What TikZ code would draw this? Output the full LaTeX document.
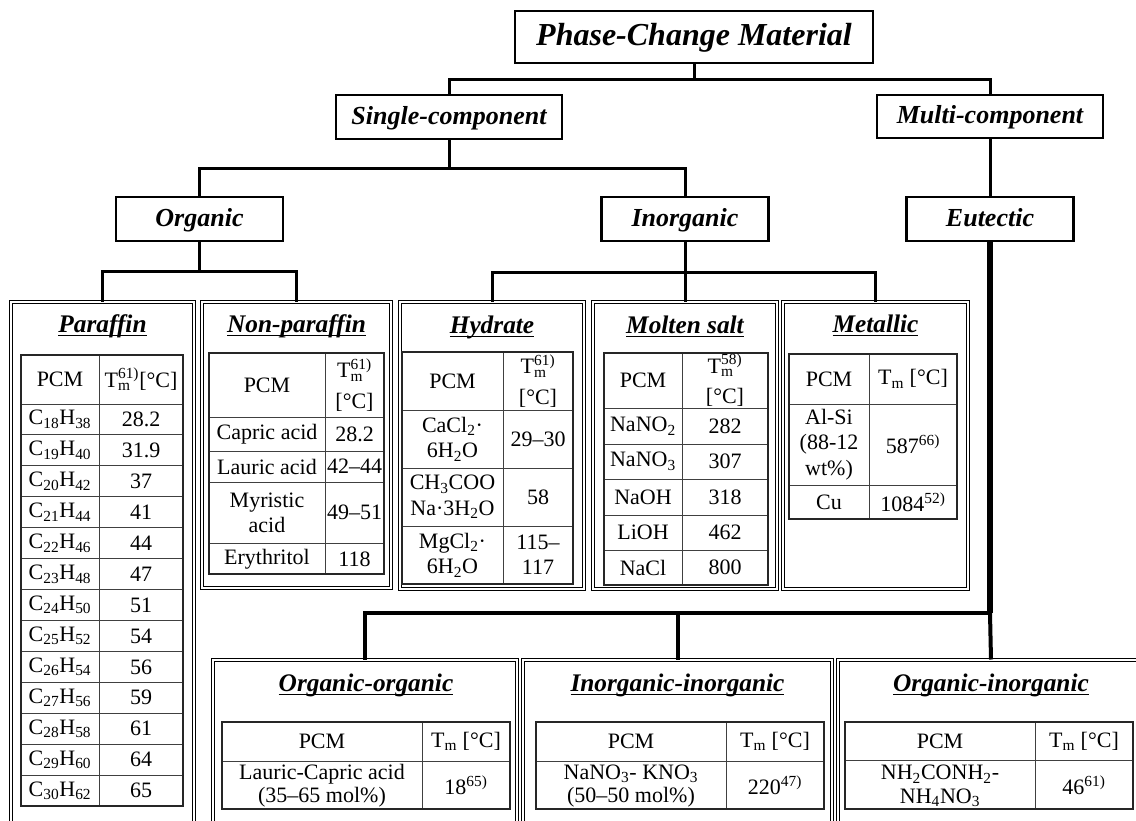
\documentclass[tikz,border=0pt]{standalone}
\usepackage{fontspec}
\setmainfont{Liberation Serif}
\usetikzlibrary{fit}
\newcommand\Tref[1]{T\makebox[0pt][l]{\textsubscript{m}}\textsuperscript{#1}}
\newcommand\Tm{T\textsubscript{m}}
\newcommand\sbs[1]{\textsubscript{#1}}
\newcommand\rfn[1]{\textsuperscript{#1}}
\newcommand\ulx[1]{\setbox0\hbox{#1}\usebox0\llap{\rule[-3.2pt]{\wd0}{1pt}}}
\tikzset{
  lvl/.style={draw, line width=1.9pt, inner sep=0pt, text height=13.5pt, text depth=3pt, font=\fontsize{19.5}{23}\selectfont\bfseries\itshape},
  topf/.style={text height=17pt, text depth=4pt, font=\fontsize{24}{28}\selectfont\bfseries\itshape},
  secbox/.style={draw, double, line width=0.75pt, double distance=0.8pt, inner sep=0pt},
  ttl/.style={anchor=base, font=\fontsize{19}{22}\selectfont\bfseries\itshape, inner sep=0pt},
  tcell/.style={font=\fontsize{16.5}{19}\selectfont, inner sep=0pt, align=center},
  bcell/.style={font=\fontsize{16.5}{17.5}\selectfont, inner sep=0pt, align=center},
  conn/.style={line width=2.25pt, line join=miter},
  btree/.style={line width=3pt, line join=miter},
  trunk/.style={line width=4.5pt},
  tout/.style={line width=1.2pt, black!85},
  tin/.style={line width=0.75pt, black!75},
}
\begin{document}
\begin{tikzpicture}[x=0.75pt,y=-0.75pt]
\useasboundingbox (0,0) rectangle (1136,821);
\clip (0,0) rectangle (1136,821);

% ---------- level boxes ----------
\node[lvl, topf, minimum width=268.5pt, minimum height=39pt] (top) at (694,37) {Phase-Change Material};
\node[lvl, minimum width=169.5pt, minimum height=33pt] (single) at (449,117) {Single-component};
\node[lvl, minimum width=169.5pt, minimum height=32.25pt] (multi) at (990,116.5) {Multi-component};
\node[lvl, minimum width=125.25pt, minimum height=33pt] (organic) at (199.5,219) {Organic};
\node[lvl, minimum width=125.25pt, minimum height=33pt] (inorganic) at (685,219) {Inorganic};
\node[lvl, minimum width=125.25pt, minimum height=33pt] (eutectic) at (990,219) {Eutectic};

% ---------- section boxes ----------
\node[secbox, fit={(11,302)(194,840)}] (paraffin) {};
\node[secbox, fit={(202,302)(391,588)}] (nonpar) {};
\node[secbox, fit={(400,302)(584,589)}] (hydrate) {};
\node[secbox, fit={(593,302)(777,589)}] (molten) {};
\node[secbox, fit={(783,302)(968,589)}] (metallic) {};
\node[secbox, fit={(213,660)(517,840)}] (orgorg) {};
\node[secbox, fit={(523,660)(832,840)}] (inorginorg) {};
\node[secbox, fit={(838,660)(1144,840)}] (orginorg) {};

% ---------- connectors ----------
\coordinate (j0) at (694,79);
\draw[conn] (top.south) -- (j0);
\draw[conn] (single.north) |- (j0) -| (multi.north);
\coordinate (j1) at (449,168);
\draw[conn] (single.south) -- (j1);
\draw[conn] (organic.north) |- (j1) -| (inorganic.north);
\draw[conn] (multi.south) -- (eutectic.north);
\coordinate (j2) at (199.5,271);
\draw[conn] (organic.south) -- (j2);
\draw[conn] (paraffin.north) |- (j2) -| (nonpar.north);
\coordinate (j3) at (685,272);
\draw[conn] (inorganic.south) -- (j3);
\draw[conn] (hydrate.north) |- (j3) -| (metallic.north);
\draw[conn] (j3) -- (molten.north);
\coordinate (j4) at (990,613);
\draw[trunk] (eutectic.south) -- (j4);
\draw[btree] (orgorg.north) |- (j4);
\draw[btree] (inorginorg.north) -- (inorginorg.north |- j4);
\draw[btree] (j4) -- (orginorg.north);

% ---------- titles ----------
\node[ttl] (tpar) at (102.5,332) {\ulx{Paraffin}};
\node[ttl] (tnon) at (296.5,332) {\ulx{Non-paraffin}};
\node[ttl] (thyd) at (492,333) {\ulx{Hydrate}};
\node[ttl] (tmol) at (685,333) {\ulx{Molten salt}};
\node[ttl] (tmet) at (875.5,332) {\ulx{Metallic}};
\node[ttl] (too) at (366,691) {\ulx{Organic-organic}};
\node[ttl] (tii) at (677.5,691) {\ulx{Inorganic-inorganic}};
\node[ttl] (toi) at (991,691) {\ulx{Organic-inorganic}};

% ---------- Paraffin table ----------
\draw[tin] (99,355) -- (99,806);
\foreach \k in {0,...,12} \draw[tin] (21,{404+30.923*\k}) -- (183,{404+30.923*\k});
\draw[tout] (21,355) rectangle (183,806);
\node[tcell] (ph1) at (60,379.5) {PCM};
\node[tcell] (ph2) at (141,379.5) {\Tref{61)}[°C]};
\foreach \a/\b/\v [count=\i] in {18/38/28.2,19/40/31.9,20/42/37,21/44/41,22/46/44,23/48/47,24/50/51,25/52/54,26/54/56,27/56/59,28/58/61,29/60/64,30/62/65}{
  \node[tcell] (pc\i) at (60,{404+30.923*(\i-0.5)}) {C\sbs{\a}H\sbs{\b}};
  \node[tcell] (pv\i) at (141,{404+30.923*(\i-0.5)}) {\v};
}

% ---------- Non-paraffin table ----------
\draw[tin] (325,353) -- (325,574);
\foreach \yy in {417,451,482,543} \draw[tin] (209,\yy) -- (384,\yy);
\draw[tout] (209,353) rectangle (384,574);
\node[tcell] (nh1) at (267,385) {PCM};
\node[tcell] (nh2) at (354.5,385) {\Tref{61)}\\[4pt]{}[°C]};
\node[tcell] (nc1) at (267,434) {Capric acid};
\node[tcell] (nv1) at (354.5,434) {28.2};
\node[tcell] (nc2) at (267,466.5) {Lauric acid};
\node[tcell] (nv2) at (354.5,466.5) {42–44};
\node[tcell] (nc3) at (267,512.5) {Myristic\\acid};
\node[tcell] (nv3) at (354.5,512.5) {49–51};
\node[tcell] (nc4) at (267,559) {Erythritol};
\node[tcell] (nv4) at (354.5,559) {118};

% ---------- Hydrate table ----------
\draw[tin] (503,352) -- (503,584);
\foreach \yy in {410,468,526} \draw[tin] (402,\yy) -- (573,\yy);
\draw[tout] (402,352) rectangle (573,584);
\node[tcell] (hh1) at (452.5,381) {PCM};
\node[tcell] (hh2) at (538,381) {\Tref{61)}\\[4pt]{}[°C]};
\node[tcell] (hc1) at (452.5,439) {CaCl\sbs{2}·\\6H\sbs{2}O};
\node[tcell] (hv1) at (538,439) {29–30};
\node[tcell] (hc2) at (452.5,497) {CH\sbs{3}COO\\Na·3H\sbs{2}O};
\node[tcell] (hv2) at (538,497) {58};
\node[tcell] (hc3) at (452.5,555) {MgCl\sbs{2}·\\6H\sbs{2}O};
\node[tcell] (hv3) at (538,555) {115–\\117};

% ---------- Molten salt table ----------
\draw[tin] (682,353) -- (682,585);
\foreach \yy in {408,444,479,515,550} \draw[tin] (604,\yy) -- (768,\yy);
\draw[tout] (604,353) rectangle (768,585);
\node[tcell] (mh1) at (643,380.5) {PCM};
\node[tcell] (mh2) at (725,380.5) {\Tref{58)}\\[4pt]{}[°C]};
\node[tcell] (mc1) at (643,426) {NaNO\sbs{2}};
\node[tcell] (mv1) at (725,426) {282};
\node[tcell] (mc2) at (643,461.5) {NaNO\sbs{3}};
\node[tcell] (mv2) at (725,461.5) {307};
\node[tcell] (mc3) at (643,497) {NaOH};
\node[tcell] (mv3) at (725,497) {318};
\node[tcell] (mc4) at (643,532.5) {LiOH};
\node[tcell] (mv4) at (725,532.5) {462};
\node[tcell] (mc5) at (643,567.5) {NaCl};
\node[tcell] (mv5) at (725,567.5) {800};

% ---------- Metallic table ----------
\draw[tin] (869,354) -- (869,519);
\foreach \yy in {404,485} \draw[tin] (789,\yy) -- (957,\yy);
\draw[tout] (789,354) rectangle (957,519);
\node[tcell] (eh1) at (829,379) {PCM};
\node[tcell] (eh2) at (913,379) {\Tm{} [°C]};
\node[tcell] (ec1) at (829,444.5) {Al-Si\\(88-12\\wt\%)};
\node[tcell] (ev1) at (913,444.5) {587\rfn{66)}};
\node[tcell] (ec2) at (829,502) {Cu};
\node[tcell] (ev2) at (913,502) {1084\rfn{52)}};

% ---------- Organic-organic table ----------
\draw[tin] (422,722) -- (422,809);
\draw[tin] (222,761) -- (510,761);
\draw[tout] (222,722) rectangle (510,809);
\node[tcell] (oh1) at (322,741.5) {PCM};
\node[tcell] (oh2) at (466,741.5) {\Tm{} [°C]};
\node[bcell] (oc1) at (322,786) {Lauric-Capric acid\\(35–65 mol\%)};
\node[tcell] (ov1) at (466,785) {18\rfn{65)}};

% ---------- Inorganic-inorganic table ----------
\draw[tin] (726,722) -- (726,809);
\draw[tin] (536,761) -- (824,761);
\draw[tout] (536,722) rectangle (824,809);
\node[tcell] (ih1) at (631,741.5) {PCM};
\node[tcell] (ih2) at (775,741.5) {\Tm{} [°C]};
\node[bcell] (ic1) at (631,786) {NaNO\sbs{3}- KNO\sbs{3}\\(50–50 mol\%)};
\node[tcell] (iv1) at (775,785) {220\rfn{47)}};

% ---------- Organic-inorganic table ----------
\draw[tin] (1035,722) -- (1035,809);
\draw[tin] (845,760) -- (1133,760);
\draw[tout] (845,722) rectangle (1133,809);
\node[tcell] (xh1) at (940,741.5) {PCM};
\node[tcell] (xh2) at (1084,741.5) {\Tm{} [°C]};
\node[bcell] (xc1) at (940,786) {NH\sbs{2}CONH\sbs{2}-\\NH\sbs{4}NO\sbs{3}};
\node[tcell] (xv1) at (1084,785) {46\rfn{61)}};
\end{tikzpicture}
\end{document}
